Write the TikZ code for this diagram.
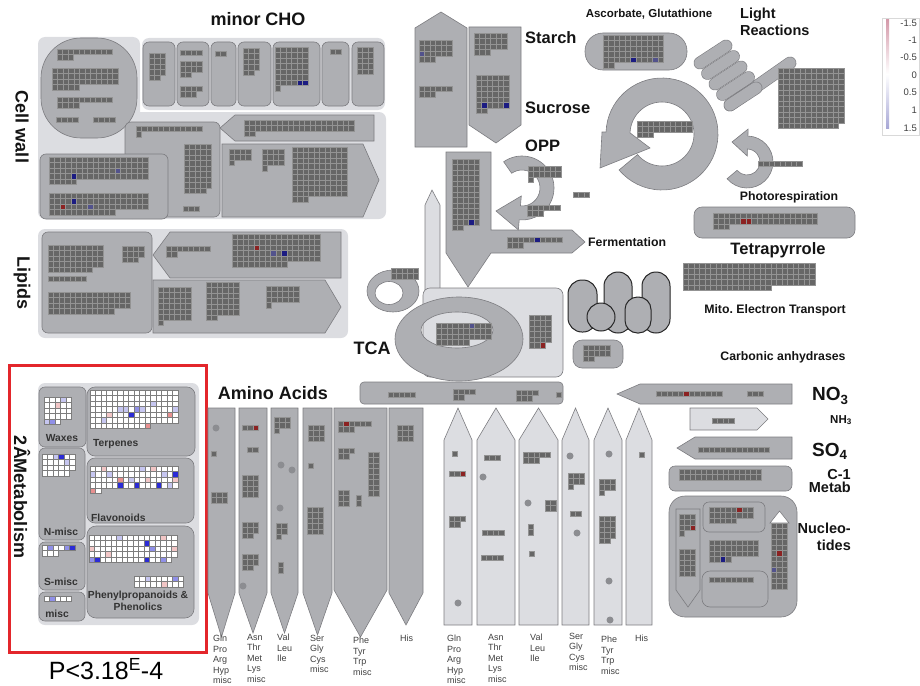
\documentclass[tikz,border=0pt]{standalone}
\usepackage{fontspec}
\setmainfont{Liberation Sans}
\usepackage{xcolor}
\definecolor{MapPanel}{HTML}{DCDDE1}
\definecolor{MapBox}{HTML}{AEAFB3}
\definecolor{MapEdge}{HTML}{7C7C80}
\definecolor{MapBin}{HTML}{666666}
\definecolor{MapBinLine}{HTML}{939393}
\definecolor{MapDot}{HTML}{8C8D91}
\definecolor{MapRed}{HTML}{E3262B}
\definecolor{MapText}{HTML}{141414}
\definecolor{HitBlue}{HTML}{2B2BD6}
\definecolor{HitMidBlue}{HTML}{9090E8}
\definecolor{HitLightBlue}{HTML}{C6C6F0}
\definecolor{HitLightRed}{HTML}{F2C6C6}
\definecolor{HitRed}{HTML}{E89090}
\definecolor{HitNavy}{HTML}{1C1C82}
\definecolor{HitGreyBlue}{HTML}{52528C}
\definecolor{HitDarkRed}{HTML}{8C2222}
\definecolor{LegendTop}{HTML}{D49AAA}
\definecolor{LegendBottom}{HTML}{A8A8D6}
\tikzset{
    % area styles
    panel/.style={fill=MapPanel, draw=none, rounded corners=7pt},
    box/.style={fill=MapBox, draw=MapEdge, line width=0.6pt, rounded corners=6pt},
    lightbox/.style={fill=MapPanel, draw=MapEdge, line width=0.6pt, rounded corners=7pt},
    pointer/.style={fill=MapBox, draw=MapEdge, line width=0.6pt},
    lightpointer/.style={fill=MapPanel, draw=MapEdge, line width=0.6pt},
    mito/.style={fill=MapBox, draw=black!85, line width=1pt},
    coil/.style={draw=MapEdge, line width=0.6pt, double=MapBox, double distance=11.5pt, line cap=round},
    % bins
    bin/.style={fill=MapBin, draw=MapBinLine, line width=0.45pt},
    wbin/.style={fill=white, draw=MapBinLine!85!black, line width=0.45pt},
    dot/.style={fill=MapDot},
    % text styles
    heading/.style={font=\bfseries\fontsize{18}{20}\selectfont, text=MapText, inner sep=0pt},
    subheading/.style={font=\bfseries\fontsize{16.5}{18}\selectfont, text=MapText, inner sep=0pt},
    caption/.style={font=\bfseries\fontsize{12.3}{14}\selectfont, text=MapText, inner sep=0pt},
    boxlabel/.style={font=\bfseries\fontsize{10.3}{12}\selectfont, text=black!80, inner sep=0pt},
    aalabel/.style={font=\fontsize{9}{10.5}\selectfont, align=left, anchor=north west, inner sep=0pt, text=black!75},
    legendlabel/.style={font=\fontsize{9.5}{10}\selectfont, anchor=east, inner sep=0pt, text=black!75}
}
\newcommand{\binsize}{5.5}
% \bins[style]{x}{y}{cols}{full rows}{cells in last row}
\newcommand{\bins}[6][bin]{%
  \ifnum#5>0\relax
    \foreach \cc in {1,...,#4}{\foreach \rr in {1,...,#5}{%
      \path[#1] ({#2+(\cc-1)*\binsize},{#3+(\rr-1)*\binsize}) rectangle +(\binsize,\binsize);}}%
  \fi
  \ifnum#6>0\relax
    \foreach \cc in {1,...,#6}{%
      \path[#1] ({#2+(\cc-1)*\binsize},{#3+#5*\binsize}) rectangle +(\binsize,\binsize);}%
  \fi}
% \hit[style]{x}{y}{col}{row}{colour}
\newcommand{\hit}[6][bin]{%
  \path[#1, fill=#6] ({#2+(#4-1)*\binsize},{#3+(#5-1)*\binsize}) rectangle +(\binsize,\binsize);}

\begin{document}
\begin{tikzpicture}[x=1pt, y=-1pt]
    \useasboundingbox (0,0) rectangle (920,685);

    % ---------------- Cell wall / minor CHO
    \node[heading] (minorcho) at (258,19) {minor CHO};
    \node[heading, rotate=-90] (cellwall) at (22,127) {Cell wall};
    \path[panel] (38,37) rectangle (140,219);
    \path[panel] (142,38) rectangle (385,110);
    \path[panel] (125,112) rectangle (386,219);

    \path[box, rounded corners=40pt] (41,38) rectangle (137,138);
    \bins{57}{49}{10}{1}{3}
    \bins{52}{68}{12}{3}{5}
    \bins{57}{97}{10}{1}{4}
    \bins{56}{117}{4}{1}{0}
    \bins{93}{117}{4}{1}{0}

    \path[box] (143,42) rectangle (175,106);
    \path[box] (177,42) rectangle (209,106);
    \path[box] (211,42) rectangle (236,106);
    \path[box] (238,42) rectangle (271,106);
    \path[box] (273,42) rectangle (320,106);
    \path[box] (322,42) rectangle (349,106);
    \path[box] (352,42) rectangle (384,106);
    \bins{149}{53}{3}{4}{2}
    \bins{180}{50}{4}{1}{0}
    \bins{180}{61}{4}{2}{2}
    \bins{180}{86}{4}{1}{3}
    \bins{215}{51}{2}{1}{0}
    \bins{243}{48}{3}{4}{2}
    \bins{275}{47}{6}{7}{1}
    \hit{275}{47}{5}{7}{HitNavy}
    \hit{275}{47}{6}{7}{HitNavy}
    \bins{330}{49}{2}{1}{0}
    \bins{357}{47}{3}{5}{0}

    \path[pointer] (220,128) -- (235,115) -- (374,115) -- (374,141) -- (235,141) -- cycle;
    \bins{244}{120}{20}{2}{2}
    \path[box] (125,122) rectangle (220,217);
    \bins{136}{126}{12}{1}{1}
    \bins{184}{144}{5}{8}{4}
    \bins{183}{206}{3}{1}{0}
    \path[box] (40,154) rectangle (168,219);
    \bins{49}{157}{18}{4}{5}
    \hit{49}{157}{5}{4}{HitNavy}
    \hit{49}{157}{13}{3}{HitGreyBlue}
    \bins{49}{193}{18}{3}{12}
    \hit{49}{193}{5}{2}{HitNavy}
    \hit{49}{193}{3}{3}{HitDarkRed}
    \hit{49}{193}{8}{3}{HitGreyBlue}
    \path[pointer] (222,144) -- (363,144) -- (379,180) -- (363,217) -- (222,217) -- cycle;
    \bins{229}{149}{4}{2}{1}
    \bins{262}{149}{4}{3}{1}
    \bins{292}{147}{10}{9}{3}

    % ---------------- Lipids
    \node[heading, rotate=-90] (lipids) at (22,283) {Lipids};
    \path[panel] (38,229) rectangle (348,338);
    \path[box] (42,232) rectangle (152,333);
    \bins{48}{245}{10}{4}{8}
    \bins{122}{246}{4}{2}{3}
    \bins{48}{276}{7}{1}{0}
    \bins{48}{292}{15}{3}{12}
    \path[pointer] (153,255) -- (170,232) -- (341,232) -- (341,278) -- (170,278) -- cycle;
    \bins{166}{246}{8}{1}{2}
    \bins{232}{234}{16}{5}{10}
    \hit{232}{234}{5}{3}{HitDarkRed}
    \hit{232}{234}{10}{4}{HitNavy}
    \hit{232}{234}{8}{4}{HitGreyBlue}
    \path[pointer] (153,280) -- (325,280) -- (341,307) -- (325,333) -- (153,333) -- cycle;
    \bins{158}{287}{6}{6}{1}
    \bins{206}{282}{6}{6}{2}
    \bins{266}{286}{6}{3}{1}

    % ---------------- Starch / Sucrose
    \path[pointer] (415,28) -- (441,12) -- (467,28) -- (467,147) -- (415,147) -- cycle;
    \bins{419}{40}{6}{3}{3}
    \hit{419}{40}{1}{3}{HitGreyBlue}
    \bins{419}{86}{6}{1}{3}
    \path[pointer] (469,27) -- (521,27) -- (521,125) -- (496,143) -- (469,125) -- cycle;
    \bins{474}{33}{6}{3}{3}
    \bins{476}{75}{6}{6}{2}
    \hit{476}{75}{2}{6}{HitNavy}
    \hit{476}{75}{6}{6}{HitNavy}
    \node[subheading, anchor=west] (starch) at (525,38) {Starch};
    \node[subheading, anchor=west] (sucrose) at (525,108) {Sucrose};
    \node[subheading, anchor=west] (opp) at (525,146) {OPP};

    % ---------------- OPP, fermentation, TCA
    \path[lightpointer] (425,290) -- (425,205) -- (432,190) -- (440,205) -- (440,290) -- cycle;
    \path[pointer] (446,152) -- (491,152) -- (491,230) -- (572,230) -- (585,242) -- (572,253)
        -- (491,253) -- (468,287) -- (446,253) -- cycle;
    \bins{452}{159}{5}{12}{2}
    \hit{452}{159}{4}{12}{HitNavy}
    \bins{507}{237}{10}{1}{3}
    \hit{507}{237}{6}{1}{HitNavy}
    \node[caption, anchor=west] (fermentation) at (588,242) {Fermentation};
    \begin{scope}[shift={(522,188)}]
        \path[pointer] (235:32) arc[start angle=235, end angle=455, radius=32] -- (455:42) -- (-26,23)
            -- (455:8) -- (455:18) arc[start angle=455, end angle=235, radius=18] -- cycle;
    \end{scope}
    \bins{528}{166}{6}{2}{1}
    \bins{527}{205}{6}{1}{3}
    \bins{573}{192}{3}{1}{0}

    \path[lightbox] (423,288) rectangle (563,377);
    \path[pointer, even odd rule] (459,339) ellipse [x radius=64pt, y radius=42pt]
        (457,330) ellipse [x radius=36pt, y radius=18pt];
    \bins{436}{323}{10}{3}{6}
    \hit{436}{323}{7}{1}{HitGreyBlue}
    \bins{529}{315}{4}{5}{3}
    \hit{529}{315}{3}{6}{HitDarkRed}
    \path[pointer, even odd rule] (393,291) ellipse [x radius=26pt, y radius=21pt]
        (389,293) ellipse [x radius=14pt, y radius=11.5pt];
    \bins{391}{268}{5}{2}{0}
    \node[heading] (tca) at (372,348) {TCA};

    % ---------------- Mito. electron transport
    \path[mito, rounded corners=14pt] (568,280) rectangle (597,332);
    \path[mito, rounded corners=14pt] (604,272) rectangle (632,333);
    \path[mito, rounded corners=14pt] (642,272) rectangle (670,333);
    \path[mito, rounded corners=12.5pt] (625,297) rectangle (651,333);
    \path[mito] (601,317) circle (14pt);
    \path[box, rounded corners=9pt] (573,340) rectangle (623,368);
    \bins{583}{345}{5}{2}{2}

    % ---------------- Ascorbate, light reactions, Calvin cycle
    \node[caption, font=\bfseries\fontsize{11.5}{13}\selectfont] (ascorbate) at (649,14) {Ascorbate, Glutathione};
    \path[box, rounded corners=18pt] (585,33) rectangle (687,70);
    \bins{603}{35}{11}{5}{2}
    \hit{603}{35}{6}{5}{HitNavy}
    \hit{603}{35}{10}{5}{HitGreyBlue}
    \node[subheading, font=\bfseries\fontsize{14.5}{17}\selectfont, align=left, anchor=north west] (light) at (740,8) {Light\\Reactions};
    \path[coil] (730,105) -- (790,63);
    \foreach \k in {0,...,4}
        \path[coil] ({700+7.5*\k},{63+10.5*\k}) -- ({726+7.5*\k},{46+10.5*\k});
    \bins{778}{68}{12}{10}{11}

    \begin{scope}[shift={(662,134)}]
        \path[pointer] (182:56) arc[start angle=182, end angle=500, radius=56]
            -- (500:32) arc[start angle=500, end angle=182, radius=32]
            -- (-12,14) -- (-62,34) -- (-60,-2) -- cycle;
    \end{scope}
    \bins{637}{121}{10}{2}{3}

    % ---------------- Photorespiration, tetrapyrrole
    \begin{scope}[shift={(747,162)}]
        \path[pointer] (272:26) arc[start angle=272, end angle=500, radius=26]
            -- (500:13) arc[start angle=500, end angle=272, radius=13]
            -- (272:6) -- (-15,-20) -- (272:33) -- cycle;
    \end{scope}
    \bins{758}{161}{8}{1}{0}
    \node[caption] (photoresp) at (789,197) {Photorespiration};
    \path[box, rounded corners=8pt] (694,207) rectangle (855,238);
    \bins{713}{213}{19}{2}{3}
    \hit{713}{213}{6}{2}{HitDarkRed}
    \hit{713}{213}{7}{2}{HitDarkRed}
    \node[subheading] (tetrapyrrole) at (778,250) {Tetrapyrrole};
    \bins{683}{263}{24}{4}{16}
    \node[caption] (mitoet) at (775,310) {Mito.\ Electron Transport};
    \node[caption] (carbonic) at (783,357) {Carbonic anhydrases};

    % ---------------- legend
    \path[draw=black!15, line width=0.5pt, fill=white] (882,18) rectangle (919,135);
    \shade[top color=LegendTop, bottom color=LegendBottom, middle color=white] (886,20) rectangle (889,128);
    \node[legendlabel] (leg1) at (917,23) {-1.5};
    \node[legendlabel] (leg2) at (917,40) {-1};
    \node[legendlabel] (leg3) at (917,57) {-0.5};
    \node[legendlabel] (leg4) at (917,75) {0};
    \node[legendlabel] (leg5) at (917,92) {0.5};
    \node[legendlabel] (leg6) at (917,110) {1};
    \node[legendlabel] (leg7) at (917,128) {1.5};

    % ---------------- secondary metabolism
    \draw[MapRed, line width=3pt] (9,365) rectangle (206,652);
    \path[panel] (38,383) rectangle (199,625);
    \node[heading, rotate=-90] (secmet) at (22,497) {2ÂMetabolism};
    \path[box] (39,387) rectangle (86,447);
    \path[box, rounded corners=8pt] (87,387) rectangle (195,456);
    \path[box] (39,448) rectangle (85,540);
    \path[box, rounded corners=8pt] (87,458) rectangle (194,523);
    \path[box] (39,542) rectangle (85,590);
    \path[box] (39,592) rectangle (85,621);
    \path[box, rounded corners=9pt] (87,526) rectangle (194,618);
    \bins[wbin]{44}{397}{5}{4}{3}
    \hit[wbin]{44}{397}{4}{1}{HitLightBlue}
    \hit[wbin]{44}{397}{3}{2}{HitLightRed}
    \hit[wbin]{44}{397}{2}{5}{HitMidBlue}
    \hit[wbin]{44}{397}{1}{5}{HitLightBlue}
    \bins[wbin]{90}{390}{16}{6}{11}
    \hit[wbin]{90}{390}{8}{5}{HitBlue}
    \hit[wbin]{90}{390}{6}{4}{HitLightBlue}
    \hit[wbin]{90}{390}{7}{4}{HitLightBlue}
    \hit[wbin]{90}{390}{9}{4}{HitMidBlue}
    \hit[wbin]{90}{390}{10}{4}{HitLightBlue}
    \hit[wbin]{90}{390}{15}{5}{HitRed}
    \hit[wbin]{90}{390}{11}{7}{HitRed}
    \hit[wbin]{90}{390}{12}{3}{HitLightBlue}
    \hit[wbin]{90}{390}{16}{4}{HitLightBlue}
    \hit[wbin]{90}{390}{4}{5}{HitLightRed}
    \hit[wbin]{90}{390}{3}{6}{HitLightBlue}
    \bins[wbin]{42}{454}{6}{3}{5}
    \hit[wbin]{42}{454}{4}{1}{HitBlue}
    \hit[wbin]{42}{454}{3}{1}{HitLightBlue}
    \hit[wbin]{42}{454}{5}{2}{HitLightBlue}
    \bins[wbin]{90}{466}{16}{4}{2}
    \hit[wbin]{90}{466}{16}{2}{HitBlue}
    \hit[wbin]{90}{466}{6}{4}{HitBlue}
    \hit[wbin]{90}{466}{9}{4}{HitBlue}
    \hit[wbin]{90}{466}{13}{4}{HitBlue}
    \hit[wbin]{90}{466}{1}{5}{HitRed}
    \hit[wbin]{90}{466}{6}{3}{HitRed}
    \hit[wbin]{90}{466}{3}{1}{HitLightRed}
    \hit[wbin]{90}{466}{1}{2}{HitLightBlue}
    \hit[wbin]{90}{466}{4}{2}{HitLightBlue}
    \hit[wbin]{90}{466}{10}{1}{HitLightBlue}
    \hit[wbin]{90}{466}{12}{1}{HitLightRed}
    \hit[wbin]{90}{466}{14}{2}{HitLightBlue}
    \hit[wbin]{90}{466}{16}{3}{HitLightRed}
    \hit[wbin]{90}{466}{8}{3}{HitLightBlue}
    \hit[wbin]{90}{466}{11}{3}{HitLightRed}
    \hit[wbin]{90}{466}{15}{4}{HitLightBlue}
    \bins[wbin]{42}{545}{6}{1}{3}
    \hit[wbin]{42}{545}{2}{1}{HitMidBlue}
    \hit[wbin]{42}{545}{5}{1}{HitMidBlue}
    \hit[wbin]{42}{545}{6}{1}{HitBlue}
    \bins[wbin]{44}{596}{5}{1}{0}
    \hit[wbin]{44}{596}{2}{1}{HitMidBlue}
    \bins[wbin]{89}{535}{16}{4}{15}
    \hit[wbin]{89}{535}{11}{2}{HitBlue}
    \hit[wbin]{89}{535}{2}{5}{HitBlue}
    \hit[wbin]{89}{535}{11}{5}{HitBlue}
    \hit[wbin]{89}{535}{1}{5}{HitMidBlue}
    \hit[wbin]{89}{535}{14}{5}{HitMidBlue}
    \hit[wbin]{89}{535}{4}{4}{HitLightRed}
    \hit[wbin]{89}{535}{12}{3}{HitMidBlue}
    \hit[wbin]{89}{535}{6}{1}{HitLightBlue}
    \hit[wbin]{89}{535}{14}{1}{HitLightRed}
    \hit[wbin]{89}{535}{1}{3}{HitLightRed}
    \hit[wbin]{89}{535}{16}{3}{HitLightRed}
    \bins[wbin]{134}{576}{9}{2}{0}
    \hit[wbin]{134}{576}{3}{1}{HitLightBlue}
    \hit[wbin]{134}{576}{8}{1}{HitMidBlue}
    \hit[wbin]{134}{576}{6}{2}{HitLightRed}
    \node[boxlabel] (waxes) at (62,438) {Waxes};
    \node[boxlabel, anchor=west] (terpenes) at (93,444) {Terpenes};
    \node[boxlabel] (nmisc) at (61,532) {N-misc};
    \node[boxlabel, anchor=west] (flavonoids) at (91,518) {Flavonoids};
    \node[boxlabel] (smisc) at (61,582) {S-misc};
    \node[boxlabel] (misc) at (57,614) {misc};
    \node[boxlabel, align=center] (phenyl) at (138,601) {Phenylpropanoids \&\\Phenolics};
    \node[font=\fontsize{25}{27}\selectfont, inner sep=0pt] (pvalue) at (106,669) {P<3.18\textsuperscript{E}-4};

    % ---------------- amino acids
    \node[heading] (amino) at (273,393) {Amino Acids};
    \path[box, rounded corners=4pt] (360,382) rectangle (563,404);
    \bins{388}{392}{5}{1}{0}
    \bins{453}{389}{4}{1}{2}
    \bins{516}{390}{4}{1}{3}
    \bins{556}{392}{1}{1}{0}
    % synthesis
    \path[pointer] (208,408) -- (235,408) -- (235,593) -- (221.5,637) -- (208,593) -- cycle;
    \path[pointer] (239,408) -- (267,408) -- (267,593) -- (253,633) -- (239,593) -- cycle;
    \path[pointer] (271,408) -- (298,408) -- (298,593) -- (284.5,633) -- (271,593) -- cycle;
    \path[pointer] (303,408) -- (332,408) -- (332,593) -- (317.5,635) -- (303,593) -- cycle;
    \path[pointer] (334,408) -- (387,408) -- (387,590) -- (360.5,637) -- (334,590) -- cycle;
    \path[pointer] (389,408) -- (423,408) -- (423,593) -- (406,625) -- (389,593) -- cycle;
    \path[dot] (216,428) circle (3.5pt);
    \bins{211}{451}{1}{1}{0}
    \bins{211}{492}{3}{2}{0}
    \bins{242}{425}{3}{1}{0}
    \hit{242}{425}{3}{1}{HitDarkRed}
    \bins{247}{447}{2}{1}{0}
    \bins{242}{475}{3}{4}{0}
    \bins{242}{522}{3}{2}{2}
    \bins{242}{554}{3}{2}{2}
    \path[dot] (243,586) circle (3.5pt);
    \bins{274}{417}{3}{2}{1}
    \path[dot] (281,465) circle (3.5pt);
    \path[dot] (292,470) circle (3.5pt);
    \path[dot] (280,508) circle (3.5pt);
    \bins{276}{523}{2}{2}{1}
    \bins{278}{562}{1}{2}{0}
    \bins{308}{425}{3}{3}{0}
    \bins{308}{463}{1}{1}{0}
    \bins{307}{507}{3}{5}{0}
    \bins{338}{421}{6}{1}{3}
    \hit{338}{421}{2}{1}{HitDarkRed}
    \bins{338}{448}{3}{1}{2}
    \bins{368}{452}{2}{8}{0}
    \bins{338}{490}{2}{3}{0}
    \bins{356}{495}{1}{2}{0}
    \bins{397}{425}{3}{3}{0}
    % degradation
    \path[lightpointer] (444,625) -- (444,440) -- (458,408) -- (472,440) -- (472,625) -- cycle;
    \path[lightpointer] (477,625) -- (477,440) -- (496,408) -- (515,440) -- (515,625) -- cycle;
    \path[lightpointer] (519,625) -- (519,440) -- (538.5,408) -- (558,440) -- (558,625) -- cycle;
    \path[lightpointer] (562,625) -- (562,440) -- (575.5,408) -- (589,440) -- (589,625) -- cycle;
    \path[lightpointer] (594,625) -- (594,440) -- (608,408) -- (622,440) -- (622,625) -- cycle;
    \path[lightpointer] (626,625) -- (626,440) -- (639,408) -- (652,440) -- (652,625) -- cycle;
    \bins{452}{451}{1}{1}{0}
    \bins{449}{471}{3}{1}{0}
    \hit{449}{471}{3}{1}{HitDarkRed}
    \bins{449}{516}{3}{1}{2}
    \path[dot] (458,603) circle (3.5pt);
    \bins{484}{455}{3}{1}{0}
    \path[dot] (483,477) circle (3.5pt);
    \bins{482}{530}{4}{1}{0}
    \bins{481}{555}{4}{1}{0}
    \bins{523}{452}{5}{1}{3}
    \path[dot] (528,503) circle (3.5pt);
    \bins{545}{500}{2}{2}{0}
    \bins{528}{524}{1}{2}{0}
    \bins{529}{551}{1}{1}{0}
    \path[dot] (570,456) circle (3.5pt);
    \bins{568}{473}{3}{2}{1}
    \bins{570}{511}{2}{1}{0}
    \path[dot] (577,533) circle (3.5pt);
    \path[dot] (609,454) circle (3.5pt);
    \bins{599}{479}{3}{2}{1}
    \bins{599}{516}{3}{4}{2}
    \path[dot] (609,581) circle (3.5pt);
    \path[dot] (610,620) circle (3.5pt);
    \bins{639}{452}{1}{1}{0}
    % amino acid names
    \node[aalabel] (aa1) at (213,635) {Gln\\Pro\\Arg\\Hyp\\misc};
    \node[aalabel] (aa2) at (247,634) {Asn\\Thr\\Met\\Lys\\misc};
    \node[aalabel] (aa3) at (277,634) {Val\\Leu\\Ile};
    \node[aalabel] (aa4) at (310,635) {Ser\\Gly\\Cys\\misc};
    \node[aalabel] (aa5) at (353,637) {Phe\\Tyr\\Trp\\misc};
    \node[aalabel] (aa6) at (400,635) {His};
    \node[aalabel] (ab1) at (447,635) {Gln\\Pro\\Arg\\Hyp\\misc};
    \node[aalabel] (ab2) at (488,634) {Asn\\Thr\\Met\\Lys\\misc};
    \node[aalabel] (ab3) at (530,634) {Val\\Leu\\Ile};
    \node[aalabel] (ab4) at (569,633) {Ser\\Gly\\Cys\\misc};
    \node[aalabel] (ab5) at (601,636) {Phe\\Tyr\\Trp\\misc};
    \node[aalabel] (ab6) at (635,635) {His};

    % ---------------- N, S, C-1, nucleotides
    \path[pointer] (617,394) -- (640,384) -- (792,384) -- (792,404) -- (640,404) -- cycle;
    \bins{656}{391}{12}{1}{0}
    \hit{656}{391}{6}{1}{HitDarkRed}
    \bins{747}{391}{3}{1}{0}
    \path[lightpointer] (690,408) -- (757,408) -- (768,419) -- (757,430) -- (690,430) -- cycle;
    \bins{712}{418}{4}{1}{0}
    \path[pointer] (677,448) -- (695,437) -- (792,437) -- (792,459) -- (695,459) -- cycle;
    \bins{698}{447}{13}{1}{0}
    \path[box] (669,466) rectangle (792,491);
    \bins{679}{469}{15}{2}{0}
    \node[heading, font=\bfseries\fontsize{19}{21}\selectfont, anchor=west] (no3) at (812,396) {NO\textsubscript{3}};
    \node[caption, font=\bfseries\fontsize{11.5}{13}\selectfont, anchor=east] (nh3) at (852,420) {NH\textsubscript{3}};
    \node[heading, font=\bfseries\fontsize{19}{21}\selectfont, anchor=west] (so4) at (812,451) {SO\textsubscript{4}};
    \node[subheading, font=\bfseries\fontsize{14.5}{13}\selectfont, align=right, anchor=east] (cone) at (851,481) {C-1\\Metab};

    \path[box, rounded corners=16pt] (669,496) rectangle (797,617);
    \path[pointer] (676,509) -- (700,509) -- (700,590) -- (688,607) -- (676,590) -- cycle;
    \bins{679}{514}{3}{3}{1}
    \hit{679}{514}{3}{3}{HitDarkRed}
    \bins{679}{549}{3}{5}{0}
    \path[box] (703,502) rectangle (765,532);
    \bins{709}{507}{8}{2}{5}
    \hit{709}{507}{6}{1}{HitDarkRed}
    \bins{709}{540}{9}{3}{4}
    \hit{709}{540}{3}{4}{HitNavy}
    \path[box, rounded corners=8pt] (702,571) rectangle (768,607);
    \bins{709}{577}{8}{1}{0}
    \path[fill=white, draw=MapEdge, line width=0.6pt] (770,523) -- (779.5,511) -- (789,523) -- cycle;
    \bins{771}{523}{3}{12}{0}
    \hit{771}{523}{2}{6}{HitDarkRed}
    \hit{771}{523}{1}{9}{HitGreyBlue}
    \node[subheading, font=\bfseries\fontsize{14.5}{17}\selectfont, align=right, anchor=east] (nucleo) at (851,537) {Nucleo-\\tides};
\end{tikzpicture}
\end{document}
